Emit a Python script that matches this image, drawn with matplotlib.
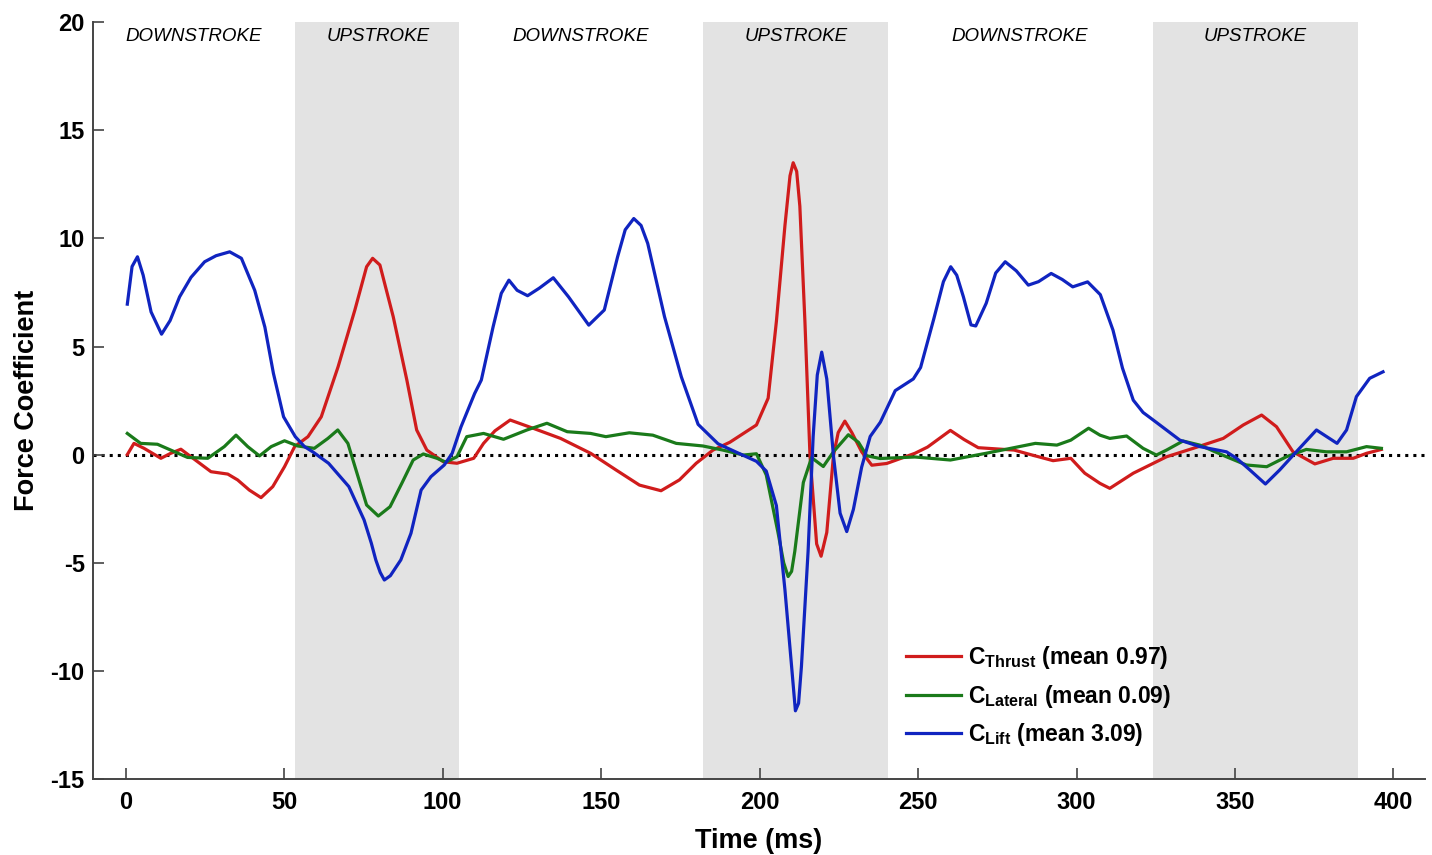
#!/usr/bin/env python3

import matplotlib
matplotlib.use("Agg")
import matplotlib.pyplot as plt

# Time (ms) and force coefficient values.
thrustT = [0.5, 2.6, 5.8, 11.1, 14.2, 17.4, 20.6, 26.9, 32.2, 35.3, 39, 42.7, 46.4, 50.1, 53.3,
           57.5, 61.7, 67, 72.3, 76, 77.9, 80.2, 84.4, 88.7, 91.8, 95, 100.2, 104.5, 109.8,
           112.9, 116.5, 121.3, 128.7, 137.2, 146.7, 154.7, 162.1, 168.9, 174.7, 180, 185.3,
           190.6, 199, 202.7, 205.3, 208, 209.6, 210.6, 211.7, 212.7, 214.3, 215.9, 218,
           219.4, 221.2, 223.3, 224.8, 226.9, 229.1, 232.2, 235.4, 240.1, 249, 253, 260.2,
           264.5, 269, 280.3, 286, 292.6, 298.2, 302.6, 307.4, 310.5, 317.9, 328.4, 336.8,
           346.3, 352.6, 358.4, 363.1, 368.3, 375.2, 381, 387.3, 391.5, 396.2]
thrustV = [0.0, 0.52, 0.29, -0.17, 0.06, 0.25, -0.1, -0.79, -0.9, -1.17, -1.64, -1.99, -1.48,
           -0.56, 0.37, 0.83, 1.75, 4.06, 6.69, 8.69, 9.08, 8.77, 6.38, 3.45, 1.14, 0.21, -0.33,
           -0.4, -0.17, 0.52, 1.1, 1.6, 1.21, 0.75, 0.06, -0.71, -1.41, -1.67, -1.17, -0.4,
           0.21, 0.57, 1.37, 2.61, 6.16, 10.6, 12.9, 13.5, 13.1, 11.49, 6.16, -0.05, -4.13,
           -4.7, -3.6, -0.05, 1.02, 1.55, 1.02, 0.13, -0.49, -0.41, 0.06, 0.35, 1.12, 0.7,
           0.32, 0.21, -0.02, -0.28, -0.17, -0.86, -1.33, -1.56, -0.86, -0.1, 0.29, 0.75,
           1.37, 1.83, 1.29, 0.13, -0.43, -0.17, -0.17, 0.06, 0.24]

lateralT = [0.5, 4.7, 10, 14.2, 19.5, 25.9, 31.1, 34.8, 38.5, 42.2, 45.9, 50.1, 54.3, 59.5,
            63.8, 66.9, 70.1, 73.3, 76, 79.7, 83.4, 87.1, 90.7, 93.9, 98.2, 101, 104.5,
            107.6, 112.9, 119.2, 126.6, 132.9, 139.3, 146.7, 151.5, 158.9, 166.3, 173.7, 182.1,
            188.4, 194.9, 199, 202.1, 205.8, 207.6, 209, 210.1, 211.1, 213.8, 216.4, 220.1,
            223.3, 228, 231.2, 233.8, 238, 249, 260.2, 271.4, 287, 293.8, 298.2, 303.8, 307.4,
            310.5, 315.8, 321, 325.2, 328.4, 333.6, 338.9, 347.3, 353.6, 360, 366.2, 372.5,
            378.8, 385.2, 391.5, 396.2]
lateralV = [0.98, 0.52, 0.48, 0.21, -0.13, -0.17, 0.37, 0.9, 0.37, -0.06, 0.37, 0.64, 0.4,
            0.29, 0.75, 1.14, 0.52, -1.02, -2.33, -2.84, -2.41, -1.33, -0.25, 0.03, -0.17,
            -0.35, -0.1, 0.83, 0.98, 0.71, 1.14, 1.45, 1.06, 0.98, 0.83, 1.01, 0.9, 0.52, 0.4,
            0.21, -0.02, 0.04, -0.94, -3.6, -5.0, -5.64, -5.4, -4.48, -1.29, -0.14, -0.55,
            0.13, 0.92, 0.57, -0.05, -0.18, -0.11, -0.25, 0.06, 0.52, 0.44, 0.67, 1.22, 0.9,
            0.75, 0.86, 0.29, -0.02, 0.21, 0.63, 0.44, -0.1, -0.48, -0.56, -0.1, 0.24, 0.13,
            0.13, 0.37, 0.29]

liftT = [0.5, 2, 3.7, 5.5, 8, 11.3, 14, 17, 20.6, 24.9, 28.5, 32.8, 36.5, 40.7, 43.9, 46.6,
         49.8, 53.5, 56.4, 59, 64, 70.4, 75.2, 77.5, 78.9, 80.3, 81.6, 83.5, 86.8, 90, 93.2,
         96.3, 100.5, 103, 105.8, 110.1, 112.2, 115.9, 118.5, 120.9, 123.5, 126.8, 130.5,
         134.9, 139.7, 146.1, 151, 155.2, 157.6, 160.3, 162.6, 164.7, 170, 175.3, 180.6,
         186.9, 192.1, 199, 202.1, 205.3, 208, 210.1, 211.3, 212.3, 213.2, 215.3, 216.9,
         218.2, 219.6, 221.2, 223.3, 225.4, 227.5, 229.6, 232.2, 234.9, 238.1, 242.8, 248.5,
         250.8, 255, 258, 260.3, 262.2, 264.3, 266.7, 268.2, 271.5, 274.5, 277.5, 281, 284.8,
         288, 292, 295.5, 298.8, 303.5, 307.5, 311.5, 314.5, 317.9, 321, 324.2, 332.6, 338.9,
         347.3, 350.5, 354.7, 359.6, 364.1, 368.9, 375.7, 382.2, 385.2, 388.3, 392.5, 396.7]
liftV = [6.96, 8.7, 9.15, 8.3, 6.6, 5.57, 6.2, 7.3, 8.2, 8.92, 9.2, 9.38, 9.08, 7.6, 5.9,
         3.76, 1.75, 0.83, 0.37, 0.13, -0.4, -1.48, -3.02, -4.1, -4.87, -5.45, -5.8, -5.6,
         -4.87, -3.64, -1.64, -1.02, -0.48, 0.06, 1.29, 2.83, 3.45, 5.9, 7.46, 8.07, 7.6,
         7.35, 7.7, 8.18, 7.3, 5.99, 6.69, 9.15, 10.4, 10.92, 10.6, 9.77, 6.38, 3.6, 1.4, 0.5,
         0.15, -0.31, -0.76, -2.36, -6.26, -9.8, -11.85, -11.5, -9.8, -4.48, 0.84, 3.68,
         4.74, 3.5, -0.05, -2.71, -3.56, -2.53, -0.58, 0.84, 1.5, 2.96, 3.5, 4.03, 6.3, 8.0,
         8.69, 8.3, 7.3, 6.0, 5.95, 7.0, 8.4, 8.92, 8.5, 7.84, 8.0, 8.38, 8.1, 7.76, 7.99,
         7.4, 5.76, 4.0, 2.52, 1.95, 1.6, 0.67, 0.37, 0.13, -0.17, -0.71, -1.36, -0.71, 0.06,
         1.14, 0.52, 1.14, 2.68, 3.53, 3.83]

# Upstroke phases (shaded) and the stroke labels.
upstrokes = [(53.4, 105.1), (182, 240.6), (324, 388.8)]
phaseNames = ["DOWNSTROKE", "UPSTROKE", "DOWNSTROKE", "UPSTROKE", "DOWNSTROKE", "UPSTROKE"]
phaseCentres = [21.5, 79.5, 143.5, 211.5, 282, 356.5]

seriesLabels = [r"$\mathbf{C_{Thrust}}$ (mean 0.97)",
                r"$\mathbf{C_{Lateral}}$ (mean 0.09)",
                r"$\mathbf{C_{Lift}}$ (mean 3.09)"]

plt.rcParams['font.family'] = ['Liberation Sans', 'DejaVu Sans']
plt.rcParams['mathtext.fontset'] = 'custom'
plt.rcParams['mathtext.rm'] = 'Liberation Sans'
plt.rcParams['mathtext.bf'] = 'Liberation Sans:bold'
plt.rcParams['axes.unicode_minus'] = False

fig = plt.figure(figsize=(14.32, 8.55), dpi=100)
ax = fig.add_axes([0.065, 0.089, 0.930, 0.885])

for start, end in upstrokes:
    ax.axvspan(start, end, color='#e3e3e3', lw=0, zorder=0)

ax.axhline(0, color='black', ls=':', lw=2.2, zorder=1)

ax.plot(thrustT, thrustV, color='#d01c1c', lw=2.3, label=seriesLabels[0], zorder=3)
ax.plot(lateralT, lateralV, color='#1a7a1a', lw=2.3, label=seriesLabels[1], zorder=3)
ax.plot(liftT, liftV, color='#1024c0', lw=2.3, label=seriesLabels[2], zorder=3)

for name, centre in zip(phaseNames, phaseCentres):
    ax.text(centre, 19.35, name, ha='center', va='center', style='italic', fontsize=13.5)

ax.set_xlim(-10.3, 409.9)
ax.set_ylim(-15, 20)
ax.set_xticks(range(0, 401, 50))
ax.set_yticks(range(-15, 21, 5))
ax.tick_params(direction='in', length=8, width=1.2, color='#444444', labelsize=17)
ax.tick_params(axis='x', pad=9)
ax.tick_params(axis='y', pad=6)
for lbl in ax.get_xticklabels() + ax.get_yticklabels():
    lbl.set_fontweight('bold')
for side in ('top', 'right'):
    ax.spines[side].set_visible(False)
for side in ('left', 'bottom'):
    ax.spines[side].set_color('#444444')
    ax.spines[side].set_linewidth(1.4)

ax.set_xlabel("Time (ms)", fontsize=19.5, fontweight='bold', labelpad=10)
ax.set_ylabel("Force Coefficient", fontsize=19.5, fontweight='bold', labelpad=8)

ax.legend(loc='upper left', bbox_to_anchor=(0.595, 0.205), frameon=False,
          prop={'size': 16.5, 'weight': 'bold'}, handlelength=2.4, handletextpad=0.3,
          labelspacing=0.5)

fig.savefig("out.png", dpi=100)
